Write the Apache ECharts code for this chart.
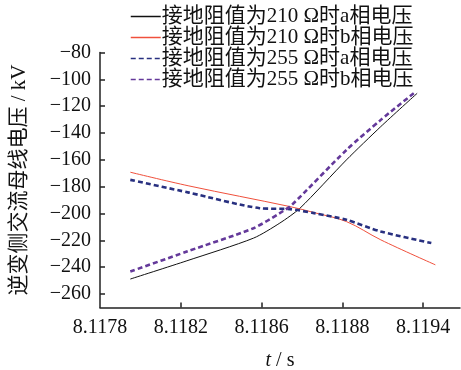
<!doctype html>
<html lang="zh-CN">
<head>
    <meta charset="utf-8"/>
    <title>逆变侧交流母线电压</title>
    <script src="https://cdn.jsdelivr.net/npm/echarts@6/dist/echarts.min.js"></script>
    <style>
        html, body { margin: 0; padding: 0; background: #fff; }
        #chart { width: 461px; height: 370px; }
    </style>
</head>
<body>
<div id="chart"></div>
<script>
    // x 轴刻度（原图标注并非等差，按原样保留）
    const xTickValues = [8.1178, 8.1182, 8.1186, 8.1190, 8.1194];
    const xTickLabels = ["8.1178", "8.1182", "8.1186", "8.1188", "8.1194"];
    const yTickValues = [-260, -240, -220, -200, -180, -160, -140, -120, -100, -80];

    const seriesNames = [
        "接地阻值为210 Ω时a相电压",
        "接地阻值为210 Ω时b相电压",
        "接地阻值为255 Ω时a相电压",
        "接地阻值为255 Ω时b相电压"
    ];

    // 210 Ω a 相
    const tA210 = [8.11795, 8.11823, 8.11856, 8.11869, 8.11879, 8.11902, 8.11919, 8.11937];
    const vA210 = [-248.8, -235.2, -218.3, -207.1, -196.0, -160.0, -135.2, -110.4];
    // 210 Ω b 相
    const tB210 = [8.11795, 8.11824, 8.11874, 8.11886, 8.11902, 8.11919, 8.11946];
    const vB210 = [-169.2, -179.4, -194.8, -199.3, -206.0, -219.6, -238.2];
    // 255 Ω a 相
    const tA255 = [8.11795, 8.11824, 8.11859, 8.11874, 8.11886, 8.11902, 8.11919, 8.11944];
    const vA255 = [-174.9, -184.4, -196.0, -196.7, -199.7, -204.7, -213.4, -222.0];
    // 255 Ω b 相
    const tB255 = [8.11795, 8.11823, 8.11856, 8.11869, 8.11875, 8.11902, 8.11919, 8.11936];
    const vB255 = [-243.2, -228.3, -210.9, -199.7, -193.5, -152.6, -130.2, -109.5];

    function pairs(t, v) {
        return t.map((x, i) => [x, v[i]]);
    }

    const font = "'Liberation Serif', 'Times New Roman', 'Noto Sans CJK SC', serif";

    const chart = echarts.init(document.getElementById("chart"), null, {renderer: "canvas"});

    const option = {
        backgroundColor: "#fff",
        animation: false,
        textStyle: {fontFamily: font, color: "#111"},
        grid: {left: 100, right: 1, top: 52.5, bottom: 62.5, outerBoundsMode: "none", containLabel: false},
        legend: {
            orient: "vertical",
            left: 130,
            top: 6,
            padding: [0, 0, 0, 0],
            itemGap: 0,
            itemWidth: 30,
            itemHeight: 21,
            itemStyle: {opacity: 0},
            lineStyle: {width: 1.5},
            textStyle: {fontFamily: font, fontSize: 21, color: "#111", lineHeight: 21, padding: [0, 0, 0, -4]},
            data: seriesNames
        },
        xAxis: {
            type: "value",
            min: 8.1178,
            max: 8.119582,
            name: "{i|t} / s",
            nameLocation: "middle",
            nameGap: 43,
            nameTextStyle: {
                fontFamily: font, fontSize: 20, color: "#111",
                rich: {i: {fontFamily: font, fontSize: 20, fontStyle: "italic", color: "#111"}}
            },
            axisLine: {lineStyle: {color: "#222", width: 1.5}},
            axisTick: {inside: true, length: 5, customValues: xTickValues.slice(1), lineStyle: {color: "#222", width: 1.5}},
            axisLabel: {
                customValues: xTickValues,
                fontFamily: font, fontSize: 20, color: "#111", margin: 10,
                formatter: function (v) {
                    const i = Math.round((v - 8.1178) / 0.0004);
                    return xTickLabels[i] || "";
                }
            },
            splitLine: {show: false}
        },
        yAxis: {
            type: "value",
            min: -270,
            max: -80,
            name: "逆变侧交流母线电压 / kV",
            nameLocation: "middle",
            nameGap: 70,
            nameTextStyle: {fontFamily: font, fontSize: 21, color: "#111"},
            axisLine: {show: true, lineStyle: {color: "#222", width: 1.5}},
            axisTick: {show: true, inside: true, length: 5, customValues: yTickValues, lineStyle: {color: "#222", width: 1.5}},
            axisLabel: {
                customValues: yTickValues,
                fontFamily: font, fontSize: 20, color: "#111", margin: 9,
                formatter: function (v) {
                    return v < 0 ? "\u2212" + Math.abs(v) : String(v);
                }
            },
            splitLine: {show: false}
        },
        series: [
            {
                name: seriesNames[0], type: "line", data: pairs(tA210, vA210),
                showSymbol: false, symbol: "none", smooth: 0.25,
                lineStyle: {color: "#111", width: 1}, itemStyle: {color: "#111"}
            },
            {
                name: seriesNames[1], type: "line", data: pairs(tB210, vB210),
                showSymbol: false, symbol: "none", smooth: 0.35,
                lineStyle: {color: "#f0503c", width: 1}, itemStyle: {color: "#f0503c"}
            },
            {
                name: seriesNames[2], type: "line", data: pairs(tA255, vA255),
                showSymbol: false, symbol: "none", smooth: 0.25,
                lineStyle: {color: "#283080", width: 2.6, type: [5, 3]}, itemStyle: {color: "#283080"}
            },
            {
                name: seriesNames[3], type: "line", data: pairs(tB255, vB255),
                showSymbol: false, symbol: "none", smooth: 0.25,
                lineStyle: {color: "#64399a", width: 2.6, type: [5, 3]}, itemStyle: {color: "#64399a"}
            }
        ]
    };
    chart.setOption(option);

    window.onresize = function () {
        chart.resize();
    };
</script>
</body>
</html>
